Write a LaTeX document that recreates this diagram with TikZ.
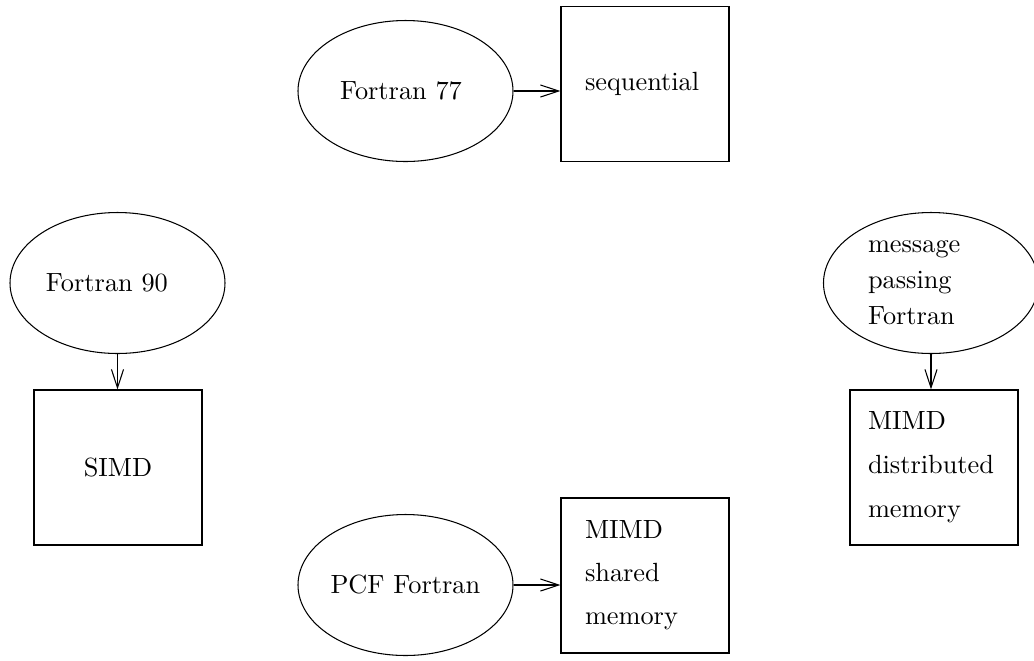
\documentclass[tikz,border=0pt]{standalone}
\usetikzlibrary{shapes.geometric,arrows.meta}
\begin{document}
\begin{tikzpicture}[x=0.38pt, y=-0.38pt, >={Straight Barb[length=7pt, width=4.6pt]},
		lang/.style={draw, thin, ellipse, minimum width=215*0.38pt, minimum height=141*0.38pt, inner sep=0pt, align=left},
		machine/.style={draw, thin, rectangle, minimum width=168*0.38pt, minimum height=155*0.38pt, inner sep=0pt, align=left}]
			\useasboundingbox (0,0) rectangle (1034,660);
			% languages
			\node[lang, text width=131*0.38pt] (f77) at (405.5,91) {Fortran 77};
			\node[lang, text width=143*0.38pt] (f90) at (117.5,283) {Fortran 90};
			\node[lang, text width=126*0.38pt] (mpf) at (931,283) {message\\[1.7pt] passing\\[1.7pt] Fortran};
			\node[lang, text width=150*0.38pt] (pcf) at (405.5,585) {PCF Fortran};
			% machines
			\node[machine, text width=120*0.38pt] (seq) at (645,84) {sequential};
			\node[machine] (simd) at (118,467.5) {SIMD};
			\node[machine, text width=132*0.38pt] (dist) at (934,467.5) {MIMD\\[4.7pt] distributed\\[4.7pt] memory};
			\node[machine, text width=120*0.38pt] (shared) at (645,575.5) {MIMD\\[4.3pt] shared\\[4.3pt] memory};
			% mappings
			\draw[thin, ->] (f77.east) -- (f77.east -| seq.west);
			\draw[thin, ->] (f90.south) -- (f90.south |- simd.north);
			\draw[thin, ->] (mpf.south) -- (mpf.south |- dist.north);
			\draw[thin, ->] (pcf.east) -- (pcf.east -| shared.west);
		\end{tikzpicture}
\end{document}
